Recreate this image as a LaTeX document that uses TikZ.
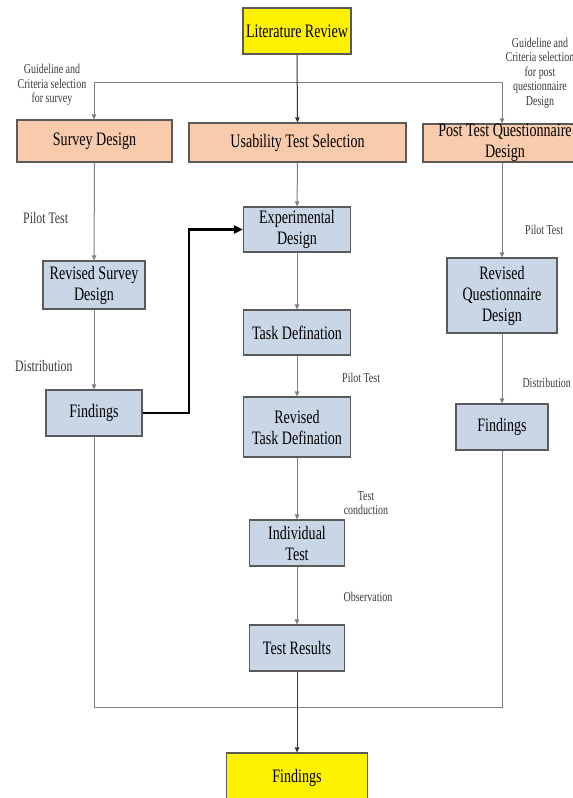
\documentclass[tikz,border=0pt]{standalone}
\usepackage{fontspec}
\setmainfont{Liberation Serif}[FakeStretch=0.74]
\usetikzlibrary{arrows.meta}

\definecolor{boxline}{HTML}{5A5A5A}
\definecolor{linegray}{HTML}{808080}
\definecolor{peachfill}{HTML}{F8CBAD}
\definecolor{bluefill}{HTML}{C9D6E6}
\definecolor{labeltext}{HTML}{3A3A3A}

\begin{document}
\begin{tikzpicture}[x=1pt, y=-1pt,
  box/.style={draw=boxline, line width=1.2pt, align=center, inner sep=0pt,
    font=\fontsize{19}{21}\selectfont},
  yelbox/.style={box, fill=yellow},
  peachbox/.style={box, fill=peachfill},
  bluebox/.style={box, fill=bluefill},
  lbl/.style={align=center, text=labeltext, inner sep=0pt,
    font=\fontsize{13.5}{14.5}\selectfont},
  biglbl/.style={lbl, font=\fontsize{16}{16}\selectfont},
  con/.style={draw=linegray, line width=1pt, -{Triangle[length=5pt,width=4.5pt]}},
  darkcon/.style={con, draw=black!80},
  gline/.style={draw=linegray, line width=1pt}]
  \useasboundingbox (0,0) rectangle (573,798);
  \clip (0,0) rectangle (573,798);

  % boxes
  \node[yelbox, minimum width=108, minimum height=46] (lit) at (297,31) {Literature Review};
  \node[peachbox, minimum width=155, minimum height=42] (survey) at (94.5,141) {Survey Design};
  \node[peachbox, minimum width=217, minimum height=39] (uts) at (297.5,142.5) {Usability Test Selection};
  \node[peachbox, minimum width=164, minimum height=38] (ptq) at (505,143) {Post Test Questionnaire\\Design};
  \node[bluebox, minimum width=107, minimum height=45] (exp) at (297,229.5) {Experimental\\Design};
  \node[bluebox, minimum width=102, minimum height=48] (rsd) at (94,285) {Revised Survey\\Design};
  \node[bluebox, minimum width=107, minimum height=45] (task) at (297,332.5) {Task Defination};
  \node[bluebox, minimum width=107, minimum height=60] (rtd) at (297,427) {Revised\\Task Defination};
  \node[bluebox, minimum width=96, minimum height=46] (findl) at (94,413) {Findings};
  \node[bluebox, minimum width=110, minimum height=75] (rqd) at (502,295.5) {Revised\\Questionnaire\\Design};
  \node[bluebox, minimum width=92, minimum height=46] (findr) at (502,427) {Findings};
  \node[bluebox, minimum width=95, minimum height=46] (indiv) at (297,543) {Individual\\Test};
  \node[bluebox, minimum width=95, minimum height=46] (results) at (297,648) {Test Results};
  \node[yelbox, minimum width=141, minimum height=50] (findb) at (297,778) {Findings};

  % labels
  \node[lbl] (gl) at (52,85) {Guideline and\\Criteria selection\\for survey};
  \node[lbl] (gr) at (540,73) {Guideline and\\Criteria selection\\for post\\questionnaire\\Design};
  \node[biglbl, anchor=west] (pt1) at (23,218) {Pilot Test};
  \node[biglbl, anchor=west] (dist1) at (15,366) {Distribution};
  \node[lbl, anchor=west] (pt2) at (525,230) {Pilot Test};
  \node[lbl, anchor=east] (dist2) at (571,383) {Distribution};
  \node[lbl, anchor=west] (pt3) at (342,378) {Pilot Test};
  \node[lbl] (tc) at (366,503) {Test\\conduction};
  \node[lbl] (obs) at (368,597) {Observation};

  % connectors
  \coordinate (jl) at (94,82);
  \coordinate (jr) at (502,82);
  \draw[gline] (jl) -- (jr);
  \draw[con] (jl) -- (jl |- survey.north);
  \draw[con] (jr) -- (jr |- ptq.north);
  \draw[darkcon] (lit) -- (uts);
  \draw[con] (survey) -- (rsd);
  \draw[con] (rsd) -- (findl);
  \draw[black, line width=2.2pt, -{Triangle[length=9pt,width=8pt]}]
    (findl.east) -- ++(46,0) |- (exp.west);
  \draw[con] (uts) -- (exp);
  \draw[con] (exp) -- (task);
  \draw[con] (task) -- (rtd);
  \draw[con] (rtd) -- (indiv);
  \draw[con] (indiv) -- (results);
  \draw[con] (rqd |- ptq.south) -- (rqd);
  \draw[con] (rqd) -- (findr);
  \coordinate (bl) at (94,707);
  \coordinate (br) at (502,707);
  \draw[gline] (findl) -- (bl) -- (br) -- (findr);
  \draw[darkcon] (results) -- (findb);
\end{tikzpicture}
\end{document}
